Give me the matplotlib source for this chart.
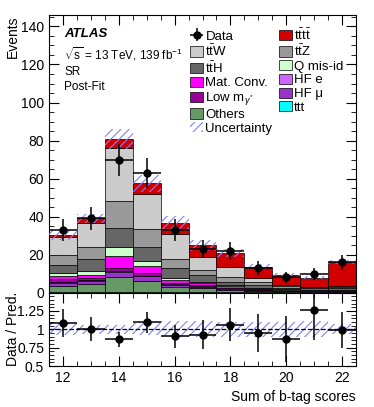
import numpy as np
import matplotlib
matplotlib.use('Agg')
import matplotlib.pyplot as plt
from matplotlib.patches import Patch
from matplotlib.ticker import MultipleLocator, FuncFormatter

plt.rcParams['font.family'] = ['Liberation Sans', 'DejaVu Sans']
plt.rcParams['mathtext.fontset'] = 'custom'
plt.rcParams['mathtext.rm'] = 'Liberation Sans'
plt.rcParams['mathtext.it'] = 'Liberation Sans:italic'
plt.rcParams['hatch.linewidth'] = 0.8

# bins: sum of b-tag scores
bins = [12, 13, 14, 15, 16, 17, 18, 19, 20, 21, 22]

# stacked backgrounds, bottom -> top
ttt = [0.2, 0.2, 0.3, 0.3, 0.2, 0.2, 0.1, 0.1, 0.1, 0.1, 0.1]
others = [3.3, 4.3, 7.9, 5.7, 2.6, 2.0, 1.3, 0.9, 0.5, 0.4, 0.4]
hf_mu = [1.5, 1.5, 2.6, 2.5, 1.2, 0.8, 0.6, 0.4, 0.3, 0.3, 0.2]
hf_e = [0.4, 0.4, 0.5, 0.4, 0.3, 0.3, 0.2, 0.1, 0.1, 0.1, 0.1]
low_mg = [1.6, 1.3, 1.7, 1.5, 1.0, 0.6, 0.4, 0.3, 0.2, 0.1, 0.2]
mat_conv = [2.0, 1.6, 6.2, 3.8, 1.2, 1.1, 0.7, 0.4, 0.3, 0.3, 0.2]
q_misid = [1.5, 1.9, 4.6, 2.3, 1.3, 0.8, 0.6, 0.4, 0.3, 0.2, 0.2]
tth = [3.8, 6.3, 10.0, 7.5, 5.0, 3.3, 1.9, 1.4, 0.8, 0.7, 0.8]
ttz = [5.3, 6.7, 14.4, 9.3, 4.8, 2.9, 2.6, 1.6, 0.8, 0.6, 0.8]
ttw = [9.9, 12.6, 27.9, 18.6, 13.1, 7.0, 4.9, 1.9, 0.6, 0.4, 0.7]
tttt = [0.8, 2.2, 4.8, 5.6, 5.8, 5.8, 7.4, 6.2, 5.2, 4.7, 12.5]

# relative total uncertainty of the prediction
rel_unc = [0.08, 0.06, 0.065, 0.08, 0.11, 0.11, 0.10, 0.10, 0.10, 0.11, 0.07]

data = [33, 39, 70, 63, 33, 23, 22, 13, 8, 10, 16]
data_err = [5.8, 6.3, 8.4, 8.0, 5.8, 4.8, 4.7, 3.6, 2.9, 3.2, 4.0]

stack = [
    (ttt, '#00ffff', 'ttt'),
    (others, '#669966', 'Others'),
    (hf_mu, '#9933cc', 'HF μ'),
    (hf_e, '#cc66ff', 'HF e'),
    (low_mg, '#990099', r'Low m$_{\gamma^{*}}$'),
    (mat_conv, '#ff00ff', 'Mat. Conv.'),
    (q_misid, '#ccffcc', 'Q mis-id'),
    (tth, '#666666', r'$\mathrm{t\bar{t}H}$'),
    (ttz, '#999999', r'$\mathrm{t\bar{t}Z}$'),
    (ttw, '#cccccc', r'$\mathrm{t\bar{t}W}$'),
    (tttt, '#d00000', r'$\mathrm{t\bar{t}t\bar{t}}$'),
]

x = np.array(bins, dtype=float)
fig = plt.figure(figsize=(3.74, 4.07), dpi=100)
ax = fig.add_axes([0.131, 0.281, 0.821, 0.682])
rax = fig.add_axes([0.131, 0.1007, 0.821, 0.1803], sharex=ax)

handles = {}
bottom = np.zeros(len(bins))
for vals, col, lab in stack:
    v = np.array(vals)
    ax.bar(x, v, width=1.0, bottom=bottom, color=col, edgecolor='black',
           linewidth=0.5, zorder=2)
    handles[lab] = Patch(facecolor=col, edgecolor='black', linewidth=0.5)
    bottom = bottom + v
total = bottom

unc = total * np.array(rel_unc)
ax.bar(x, 2 * unc, width=1.0, bottom=total - unc, fill=False, hatch='////',
       edgecolor='#8080ff', linewidth=0, zorder=3)

d = np.array(data, dtype=float)
derr = np.array(data_err)
eb = ax.errorbar(x, d, yerr=derr, xerr=0.5, fmt='o', color='black', ms=5,
                 elinewidth=1.1, capsize=0, zorder=5)

ax.set_xlim(11.5, 22.5)
ax.set_ylim(0, 146)
ax.yaxis.set_major_locator(MultipleLocator(20))
ax.yaxis.set_minor_locator(MultipleLocator(5))
ax.set_ylabel('Events', loc='top', fontsize=10)
plt.setp(ax.get_xticklabels(), visible=False)

# legend
unc_h = Patch(facecolor='none', edgecolor='#8080ff', hatch='////', linewidth=0)
col1 = [(eb, 'Data'),
        (handles[r'$\mathrm{t\bar{t}W}$'], r'$\mathrm{t\bar{t}W}$'),
        (handles[r'$\mathrm{t\bar{t}H}$'], r'$\mathrm{t\bar{t}H}$'),
        (handles['Mat. Conv.'], 'Mat. Conv.'),
        (handles[r'Low m$_{\gamma^{*}}$'], r'Low m$_{\gamma^{*}}$'),
        (handles['Others'], 'Others'),
        (unc_h, 'Uncertainty')]
col2 = [(handles[r'$\mathrm{t\bar{t}t\bar{t}}$'], r'$\mathrm{t\bar{t}t\bar{t}}$'),
        (handles[r'$\mathrm{t\bar{t}Z}$'], r'$\mathrm{t\bar{t}Z}$'),
        (handles['Q mis-id'], 'Q mis-id'),
        (handles['HF e'], 'HF e'),
        (handles['HF μ'], 'HF μ'),
        (handles['ttt'], 'ttt')]
items = col1 + col2
ax.legend([h for h, _ in items], [l for _, l in items], ncol=2,
          loc='upper left', bbox_to_anchor=(0.43, 0.99), frameon=False,
          fontsize=9.5, handlelength=1.0, handleheight=0.8,
          handletextpad=0.15, labelspacing=0.08, columnspacing=0.5,
          borderpad=0.2)

ax.text(0.05, 0.93, 'ATLAS', transform=ax.transAxes, fontsize=9.5,
        fontweight='bold', fontstyle='italic', va='center')
ax.text(0.05, 0.86, r'$\sqrt{\mathrm{s}}$ = 13 TeV, 139 fb$^{-1}$',
        transform=ax.transAxes, fontsize=8.5, va='center')
ax.text(0.05, 0.795, 'SR', transform=ax.transAxes, fontsize=8.5, va='center')
ax.text(0.05, 0.74, 'Post-Fit', transform=ax.transAxes, fontsize=8.5,
        va='center')

# ratio panel
ratio = d / total
rerr = derr / total
rax.bar(x, 2 * np.array(rel_unc), width=1.0, bottom=1 - np.array(rel_unc),
        fill=False, hatch='////', edgecolor='#8080ff', linewidth=0, zorder=2)
rax.axhline(1, color='black', linestyle='--', linewidth=0.9, zorder=3)
rax.errorbar(x, ratio, yerr=rerr, xerr=0.5, fmt='o', color='black', ms=5,
             elinewidth=1.1, capsize=0, zorder=5)
rax.set_ylim(0.5, 1.5)
rax.yaxis.set_major_locator(MultipleLocator(0.25))
rax.yaxis.set_minor_locator(MultipleLocator(0.05))
rax.yaxis.set_major_formatter(
    FuncFormatter(lambda v, p: '' if v > 1.4 else '%g' % v))
rax.xaxis.set_major_locator(MultipleLocator(2))
rax.xaxis.set_minor_locator(MultipleLocator(0.5))
rax.set_ylabel('Data / Pred.', fontsize=10)
rax.set_xlabel('Sum of b-tag scores', loc='right', fontsize=10)

for a in (ax, rax):
    a.tick_params(which='both', direction='in', top=True, right=True,
                  labelsize=10)
    a.tick_params(which='major', length=7)
    a.tick_params(which='minor', length=3.5)
ax.yaxis.set_label_coords(-0.095, 1.0)
rax.yaxis.set_label_coords(-0.095, 0.5)

fig.savefig('out.png', dpi=100)
